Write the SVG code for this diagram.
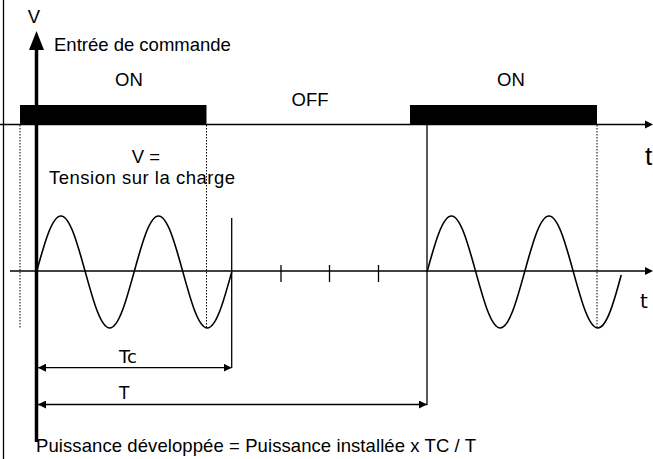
<svg xmlns="http://www.w3.org/2000/svg" width="653" height="459" viewBox="0 0 653 459">
<style>
  text { font-family: "Liberation Sans", Arial, sans-serif; font-size: 18.5px; fill: #000; }
  .thin { font-family: "DejaVu Sans", sans-serif; font-size: 17px; }
  .ln { stroke: #000; stroke-width: 1.3; fill: none; }
  .dot { stroke: #000; stroke-width: 1; stroke-dasharray: 1.5 1.5; fill: none; }
  .wave { stroke: #000; stroke-width: 1.6; fill: none; }
</style>
<defs>
  <marker id="ah" viewBox="0 0 10 10" refX="10" refY="5" markerWidth="8" markerHeight="8" markerUnits="userSpaceOnUse" orient="auto-start-reverse">
    <path d="M0,0 L10,5 L0,10 z" fill="#000"/>
  </marker>
</defs>
<rect width="653" height="459" fill="#fff"/>

<g id="frame">
  <line x1="3.5" y1="0" x2="3.5" y2="459" class="ln" stroke-width="1"/>
</g>

<g id="connectors">
  <!-- top time axis -->
  <line x1="0" y1="124.5" x2="646" y2="124.5" class="ln"/>
  <path d="M653,124.5 L645,120.5 L645,128.5 z" fill="#000"/>
  <!-- lower time axis -->
  <line x1="10" y1="271" x2="646" y2="271" class="ln"/>
  <path d="M653,271 L645,267 L645,275 z" fill="#000"/>
  <!-- main vertical axis -->
  <line x1="36.5" y1="48" x2="36.5" y2="442" stroke="#000" stroke-width="3.5"/>
  <path d="M36.5,31 L29,50 L44,50 z" fill="#000"/>
  <!-- ticks -->
  <line x1="281" y1="265" x2="281" y2="282" class="ln"/>
  <line x1="329.5" y1="265" x2="329.5" y2="282" class="ln"/>
  <line x1="378.5" y1="265" x2="378.5" y2="282" class="ln"/>
  <!-- verticals -->
  <line x1="231.7" y1="218" x2="231.7" y2="368" class="ln"/>
  <line x1="427" y1="124.5" x2="427" y2="405" class="ln"/>
  <!-- dotted guides -->
  <line x1="20" y1="125" x2="20" y2="329" class="dot"/>
  <line x1="206.5" y1="125" x2="206.5" y2="329" class="dot"/>
  <line x1="597" y1="125" x2="597" y2="329" class="dot"/>
  <!-- dimension arrows -->
  <line x1="38" y1="367.7" x2="231.7" y2="367.7" class="ln" marker-start="url(#ah)" marker-end="url(#ah)"/>
  <line x1="38" y1="404.5" x2="427" y2="404.5" class="ln" marker-start="url(#ah)" marker-end="url(#ah)"/>
</g>

<g id="command-bars">
  <rect x="20" y="105" width="186.5" height="19.5" fill="#000"/>
  <rect x="410" y="105" width="187" height="19.5" fill="#000"/>
</g>

<g id="wave1">
  <path class="wave" d="M36.5,272 c7.9,-28.7 15.4,-56 24.4,-56 s16.5,27.3 24.4,56 s15.4,56 24.4,56 s16.5,-27.3 24.4,-56 s15.4,-56 24.4,-56 s16.5,27.3 24.4,56 s15.4,56 24.4,56 s16.5,-27.3 24.4,-56"/>
</g>

<g id="wave2">
  <path class="wave" d="M427,272 c7.9,-28.7 15.4,-56 24.4,-56 s16.5,27.3 24.4,56 s15.4,56 24.4,56 s16.5,-27.3 24.4,-56 s15.4,-56 24.4,-56 s16.5,27.3 24.4,56 s15.4,56 24.4,56 s16.5,-27.3 23.4,-53"/>
</g>

<g id="labels">
  <text x="34" y="23" text-anchor="middle">V</text>
  <text x="54" y="51">Entrée de commande</text>
  <text x="115" y="86">ON</text>
  <text x="291.5" y="106">OFF</text>
  <text x="497" y="86">ON</text>
  <text x="645" y="165" style="font-size:26px">t</text>
  <text x="146" y="163" text-anchor="middle">V =</text>
  <text x="49" y="184" textLength="186">Tension sur la charge</text>
  <text x="640" y="308" class="thin" style="font-size:20px">t</text>
  <text x="119" y="363" class="thin" style="font-size:18px">Tc</text>
  <text x="119" y="399" class="thin">T</text>
  <text x="36" y="451.5" textLength="440">Puissance développée = Puissance installée x TC / T</text>
</g>
</svg>
